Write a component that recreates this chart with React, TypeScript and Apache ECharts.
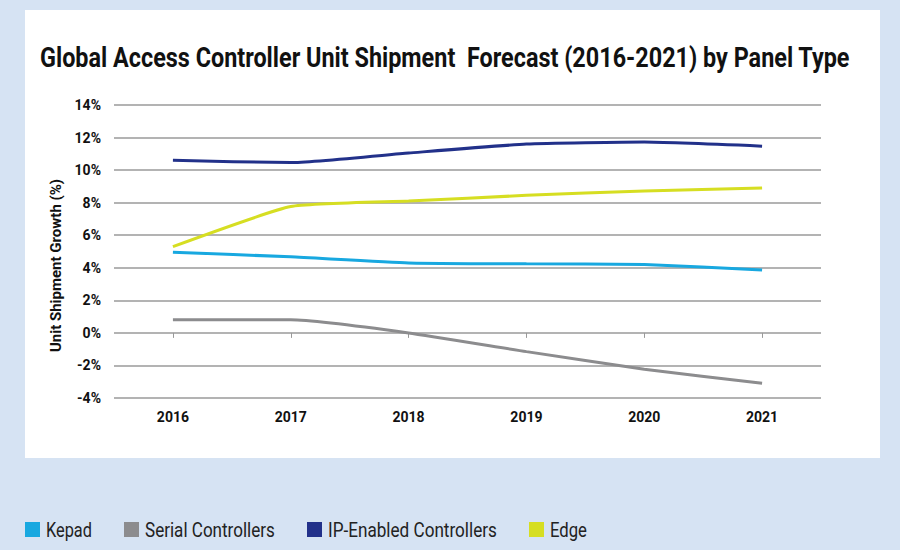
import React, { useEffect, useRef } from "react";
import * as echarts from "echarts";

const years = ["2016", "2017", "2018", "2019", "2020", "2021"];
const kepad = [4.96, 4.67, 4.3, 4.24, 4.2, 3.87];
const serial = [0.8, 0.8, 0.0, -1.15, -2.23, -3.09];
const ipEnabled = [10.6, 10.46, 11.05, 11.6, 11.72, 11.47];
const edge = [5.3, 7.76, 8.1, 8.45, 8.72, 8.9];

const seriesNames = ["Kepad", "Serial Controllers", "IP-Enabled Controllers", "Edge"];
const seriesColors = ["#18a8e0", "#8c8c8e", "#22318a", "#d6de22"];
const TITLE = "Global Access Controller Unit Shipment  Forecast (2016-2021) by Panel Type";

const FONT = "Roboto, 'Noto Sans', sans-serif";

function measure(text: string, font: string): number {
  const c = document.createElement("canvas");
  const ctx = c.getContext("2d")!;
  ctx.font = font;
  return ctx.measureText(text).width;
}

export default function App() {
  const ref = useRef<HTMLDivElement>(null);
  useEffect(() => {
    const chart = echarts.init(ref.current!, null, { renderer: "svg" });

    const titleSize = 28;
    const titleW = measure(TITLE, `bold ${titleSize}px Roboto`);
    const titleScale = 810 / titleW;

    const legMarkX = [25, 124, 307, 529];
    const legTextW = [46, 130, 169, 37];
    const legSize = 21;
    const legendGraphics: any[] = [];
    seriesNames.forEach((n, i) => {
      legendGraphics.push({
        type: "rect",
        shape: { x: legMarkX[i], y: 522, width: 15, height: 15 },
        style: { fill: seriesColors[i] },
      });
      const w = measure(n, `${legSize}px Roboto`);
      legendGraphics.push({
        type: "text",
        x: legMarkX[i] + 21,
        y: 530,
        scaleX: legTextW[i] / w,
        style: {
          text: n,
          x: 0,
          y: 0,
          fill: "#222222",
          font: `${legSize}px Roboto`,
          verticalAlign: "middle",
        },
      });
    });

    const mk = (name: string, data: number[], color: string) => ({
      name,
      type: "line",
      data,
      symbol: "none",
      smooth: 0.15,
      lineStyle: { color, width: 3 },
      itemStyle: { color },
    });
    chart.setOption({
      animation: false,
      backgroundColor: "#d6e3f3",
      textStyle: { fontFamily: FONT },
      graphic: [
        {
          type: "rect",
          z: -10,
          shape: { x: 25, y: 10, width: 855, height: 448 },
          style: { fill: "#ffffff" },
        },
        {
          type: "text",
          x: 40,
          y: 57,
          scaleX: titleScale,
          style: {
            text: TITLE,
            x: 0,
            y: 0,
            fill: "#111111",
            font: `bold ${titleSize}px Roboto`,
            verticalAlign: "middle",
          },
        },
        ...legendGraphics,
      ],
      grid: { left: 114, right: 79, top: 105, bottom: 152, containLabel: false },
      xAxis: {
        type: "category",
        data: years,
        boundaryGap: true,
        axisLine: { show: false },
        axisTick: { show: true, alignWithLabel: true, length: 5, lineStyle: { color: "#999999" } },
        axisLabel: { color: "#111111", fontSize: 14, fontWeight: "bold", margin: 12, fontFamily: FONT },
      },
      yAxis: {
        type: "value",
        min: -4,
        max: 14,
        interval: 2,
        name: "Unit Shipment Growth (%)",
        nameLocation: "middle",
        nameGap: 50,
        nameRotate: 90,
        nameTextStyle: { color: "#111111", fontSize: 15, fontWeight: "bold", fontFamily: FONT, padding: [0, 28, 0, 0] },
        axisLine: { show: false },
        axisTick: { show: false },
        axisLabel: { color: "#111111", fontSize: 14, fontWeight: "bold", margin: 13, formatter: "{value}%", fontFamily: FONT },
        splitLine: { lineStyle: { color: "#9a9a9a", width: 1.5 } },
      },
      series: seriesNames.map((n, i) => mk(n, [kepad, serial, ipEnabled, edge][i], seriesColors[i])),
    });
    return () => chart.dispose();
  }, []);
  return (
    <div style={{ position: "fixed", left: 0, top: 0, width: 900, height: 550 }}>
      <div ref={ref} style={{ width: 900, height: 550 }} />
    </div>
  );
}
